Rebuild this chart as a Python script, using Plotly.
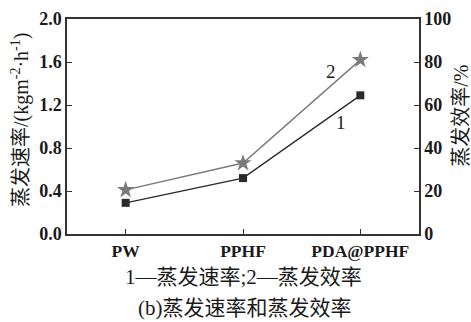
import plotly.graph_objects as go

categories = ["PW", "PPHF", "PDA@PPHF"]
evap_rate = [0.29, 0.52, 1.29]
evap_eff = [20.5, 33, 81]
left_ticks = [0.0, 0.4, 0.8, 1.2, 1.6, 2.0]
right_ticks = [0, 20, 40, 60, 80, 100]

serif = "Liberation Serif, Times New Roman, serif"
cjk = "Liberation Serif, Noto Sans CJK SC, serif"

fig = go.Figure()
fig.add_trace(go.Scatter(x=categories, y=evap_rate, mode="lines+markers",
                         line=dict(color="#2b2b2b", width=1.4),
                         marker=dict(symbol="square", size=8, color="#2b2b2b"),
                         yaxis="y", showlegend=False))
fig.add_trace(go.Scatter(x=categories, y=evap_eff, mode="lines+markers",
                         line=dict(color="#7a7a7a", width=1.4),
                         marker=dict(symbol="star", size=13, color="#7a7a7a"),
                         yaxis="y2", showlegend=False))

fig.update_layout(
    width=471, height=322,
    margin=dict(l=67, r=52, t=19, b=88),
    plot_bgcolor="white", paper_bgcolor="white",
    font=dict(family=cjk, color="#1a1a1a", size=14),
    xaxis=dict(type="category", range=[-0.5, 2.5], showline=True, linecolor="#333",
               linewidth=1.5, mirror=True, ticks="inside", ticklen=5, tickcolor="#333",
               tickfont=dict(family=serif, size=17.5, weight="bold"), showgrid=False,
               automargin=False),
    yaxis=dict(range=[0, 2.0], tickvals=left_ticks, ticktext=[f"{v:.1f}" for v in left_ticks],
               showline=True, linecolor="#333", linewidth=1.5, ticks="inside", ticklen=5,
               tickcolor="#333", showgrid=False, zeroline=False, automargin=False,
               tickfont=dict(family=serif, size=18, weight="bold")),
    yaxis2=dict(range=[0, 100], tickvals=right_ticks, overlaying="y", side="right",
                showline=True, linecolor="#333", linewidth=1.5, ticks="inside", ticklen=5,
                tickcolor="#333", showgrid=False, zeroline=False, automargin=False,
                tickfont=dict(family=serif, size=18, weight="bold")),
)

fig.add_annotation(x=0, y=0.53, xref="paper", yref="paper", xanchor="center", yanchor="middle",
                   text="蒸发速率/(kgm<sup>-2</sup>·h<sup>-1</sup>)", textangle=-90,
                   showarrow=False, xshift=-47, font=dict(size=20))
fig.add_annotation(x=1, y=0.55, xref="paper", yref="paper", xanchor="center", yanchor="middle",
                   text="蒸发效率/%", textangle=-90, showarrow=False, xshift=42,
                   font=dict(size=20))
fig.add_annotation(x=2, y=1.29, xref="x", yref="y", text="1", showarrow=False,
                   xanchor="center", yanchor="middle",
                   xshift=-19, yshift=-27, font=dict(family=serif, size=19))
fig.add_annotation(x=2, y=81, xref="x", yref="y2", text="2", showarrow=False,
                   xanchor="center", yanchor="middle",
                   xshift=-29, yshift=-12, font=dict(family=serif, size=19))
fig.add_annotation(x=0.5, y=-0.2, xref="paper", yref="paper", text="1—蒸发速率;2—蒸发效率",
                   xanchor="center", yanchor="middle", showarrow=False, font=dict(size=21))
fig.add_annotation(x=0.5, y=-0.342, xref="paper", yref="paper", text="(b)蒸发速率和蒸发效率",
                   xanchor="center", yanchor="middle", showarrow=False, xshift=2,
                   font=dict(size=21))

fig.write_html("out.html", config={"displayModeBar": False},
               post_script="document.body.style.margin='0';")
